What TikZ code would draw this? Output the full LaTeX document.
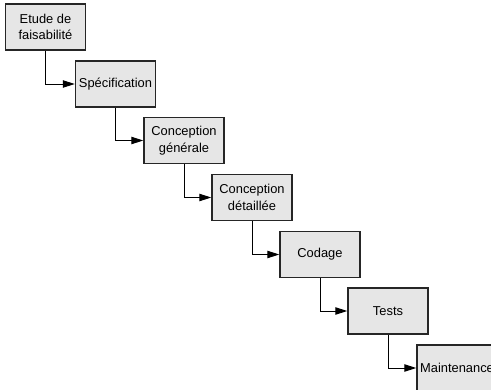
\documentclass[tikz,border=0pt]{standalone}
\usepackage{fontspec}
\setmainfont{Liberation Sans}
\usetikzlibrary{arrows.meta}
\definecolor{boxfill}{HTML}{E6E6E6}
\definecolor{boxline}{HTML}{262626}
\tikzset{
  phase/.style={draw=boxline, line width=0.04cm, fill=boxfill, minimum width=2.4cm,
    minimum height=1.38cm, inner sep=0pt, align=center,
    font=\fontsize{11}{14}\selectfont},
  flow/.style={draw=black, line width=0.03cm, -{Triangle[length=0.36cm,width=0.22cm]}}
}
\begin{document}
\begin{tikzpicture}[x=0.03cm, y=-0.03cm]
  \useasboundingbox (0,0) rectangle (491,390);

  % Drawing phase boxes
  \node [phase] (etude) at (45.5,27.0) {Etude de\\faisabilité};
  \node [phase] (spec) at (115.5,84.0) {Spécification};
  \node [phase] (cgen) at (184.0,140.5) {Conception\\générale};
  \node [phase] (cdet) at (252.0,197.5) {Conception\\détaillée};
  \node [phase] (codage) at (320.0,254.5) {Codage};
  \node [phase] (tests) at (388.0,311.0) {Tests};
  \node [phase] (maint) at (457.0,368.0) {Maintenance};

  % Drawing links
  \draw [flow] (etude.south) |- (spec.west);
  \draw [flow] (spec.south) |- (cgen.west);
  \draw [flow] (cgen.south) |- (cdet.west);
  \draw [flow] (cdet.south) |- (codage.west);
  \draw [flow] (codage.south) |- (tests.west);
  \draw [flow] (tests.south) |- (maint.west);
\end{tikzpicture}
\end{document}
